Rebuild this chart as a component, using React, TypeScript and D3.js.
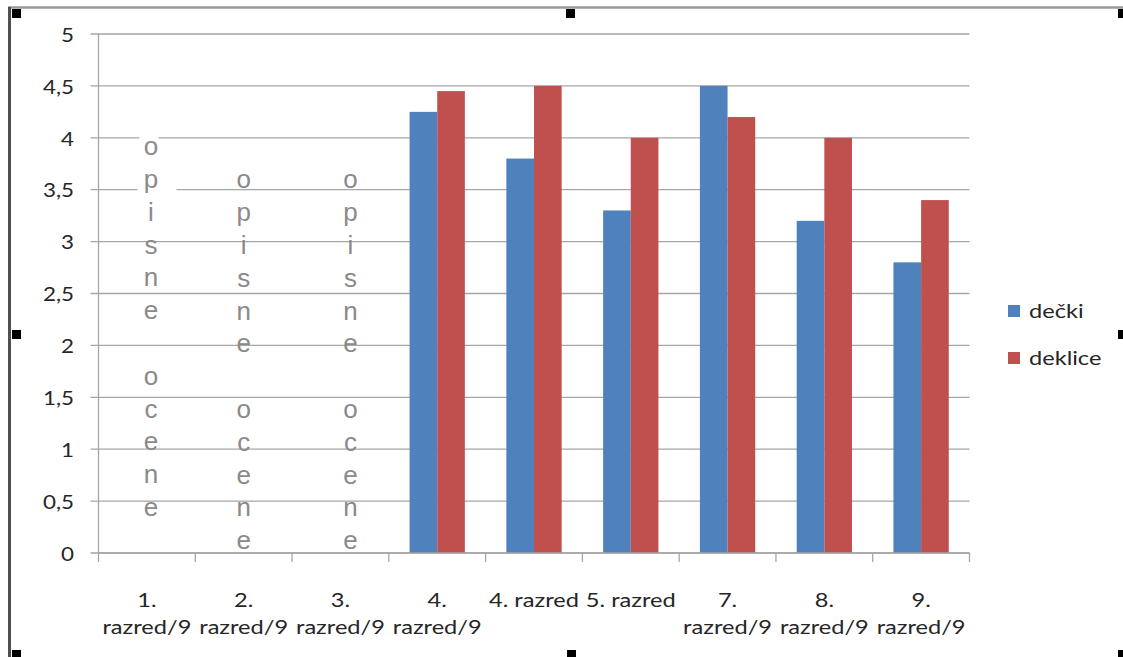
import React, { useMemo } from "react";
import * as d3 from "d3";

// ---- data ----
const categories = [
  "1. razred/9",
  "2. razred/9",
  "3. razred/9",
  "4. razred/9",
  "4. razred",
  "5. razred",
  "7. razred/9",
  "8. razred/9",
  "9. razred/9",
];
const decki: (number | null)[] = [null, null, null, 4.25, 3.8, 3.3, 4.5, 3.2, 2.8];
const deklice: (number | null)[] = [null, null, null, 4.45, 4.5, 4.0, 4.2, 4.0, 3.4];
const seriesNames = ["dečki", "deklice"];
const seriesColors = ["#4f81bd", "#c0504d"];
const yTicks = [0, 0.5, 1, 1.5, 2, 2.5, 3, 3.5, 4, 4.5, 5];
const annotationText = "opisne ocene";
const annotationCats = ["1. razred/9", "2. razred/9", "3. razred/9"];
const annotationTopValue = [3.92, 3.6, 3.6];
const annotationDx = [4, 0, 10];
// gridline gaps behind first annotation (value, x-from, x-to offsets from band start)
const gapValues = [4, 3.5];
const gapSpans = [
  [41, 60],
  [39, 78],
];

const W = 1123;
const H = 657;
const M = { left: 98.5, right: 969.5, top: 34, bottom: 553 };
const FONT = "Lato, 'Open Sans', sans-serif";
const SX = 1.18; // horizontal stretch of the reference text

const fmt = (d: number) => String(d).replace(".", ",");

function measure(text: string, font: string) {
  const c = document.createElement("canvas");
  const ctx = c.getContext("2d")!;
  ctx.font = font;
  return ctx.measureText(text).width;
}

export default function App() {
  const x = useMemo(
    () => d3.scaleBand<string>().domain(categories).range([M.left, M.right]).paddingInner(0).paddingOuter(0),
    []
  );
  const y = useMemo(() => d3.scaleLinear().domain([0, 5]).range([M.bottom, M.top]), []);
  const xs = useMemo(
    () => d3.scaleBand<string>().domain(seriesNames).range([0, x.bandwidth()]).paddingInner(0).paddingOuter(0.75),
    [x]
  );
  const series = [decki, deklice];
  const bw = x.bandwidth();
  const xFontSize = 20;
  const labelLines = categories.map((c) => {
    const w = measure(c, `${xFontSize}px Lato`) * SX;
    return w > bw + 2 ? c.split(" ") : [c];
  });
  const lineStep = 32.8;
  const boundaries = d3.range(categories.length + 1).map((i) => M.left + i * bw);

  return (
    <div style={{ position: "fixed", left: 0, top: 0 }}>
      <svg width={W} height={H} style={{ display: "block", background: "#fff" }}>
        {/* frame */}
        <line x1={8} x2={W} y1={7.5} y2={7.5} stroke="#9a9a9a" strokeWidth={2.5} />
        <line x1={9.5} x2={9.5} y1={7} y2={H} stroke="#505050" strokeWidth={3} />

        {/* gridlines */}
        {yTicks.map((t) => (
          <line key={t} x1={M.left - 8} x2={M.right} y1={y(t)} y2={y(t)} stroke="#a6a6a6" strokeWidth={1.3} />
        ))}
        {gapValues.map((v, i) => (
          <rect
            key={v}
            x={x(annotationCats[0])! + gapSpans[i][0]}
            y={y(v) - 2}
            width={gapSpans[i][1] - gapSpans[i][0]}
            height={4}
            fill="#fff"
          />
        ))}
        {/* y axis */}
        <line x1={M.left} x2={M.left} y1={M.top} y2={M.bottom} stroke="#a6a6a6" strokeWidth={1.3} />
        {yTicks.map((t) => (
          <text
            key={t}
            transform={`translate(${74},${y(t)}) scale(${SX},1)`}
            textAnchor="end"
            dominantBaseline="central"
            fontFamily={FONT}
            fontSize={19}
            fill="#262626"
          >
            {fmt(t)}
          </text>
        ))}
        {/* x tick marks */}
        {boundaries.map((b, i) => (
          <line key={i} x1={b} x2={b} y1={M.bottom} y2={M.bottom + 9} stroke="#a6a6a6" strokeWidth={1.3} />
        ))}

        {/* annotations */}
        {annotationCats.map((c, i) => {
          const cx = x(c)! + bw / 2 + annotationDx[i];
          const letters = annotationText.split("");
          return (
            <g key={c}>
              {letters.map((ch, j) => (
                <text
                  key={j}
                  x={cx}
                  y={y(annotationTopValue[i]) + j * lineStep}
                  textAnchor="middle"
                  dominantBaseline="central"
                  fontFamily="'Liberation Sans', Arial, sans-serif"
                  fontSize={26}
                  fill="#8a8a8a"
                >
                  {ch}
                </text>
              ))}
            </g>
          );
        })}

        {/* bars */}
        {series.map((s, si) =>
          s.map((v, ci) =>
            v == null ? null : (
              <rect
                key={`${si}-${ci}`}
                x={x(categories[ci])! + xs(seriesNames[si])!}
                y={y(v)}
                width={xs.bandwidth()}
                height={y(0) - y(v)}
                fill={seriesColors[si]}
              />
            )
          )
        )}
        {/* x axis line */}
        <line x1={M.left} x2={M.right} y1={M.bottom} y2={M.bottom} stroke="#a6a6a6" strokeWidth={1.3} />

        {/* x labels */}
        {categories.map((c, i) => (
          <g key={c + i}>
            {labelLines[i].map((ln, j) => (
              <text
                key={j}
                transform={`translate(${x(c)! + bw / 2},${607 + j * 26.5}) scale(${SX},1)`}
                textAnchor="middle"
                fontFamily={FONT}
                fontSize={xFontSize}
                fill="#262626"
              >
                {ln}
              </text>
            ))}
          </g>
        ))}

        {/* legend */}
        {seriesNames.map((n, i) => (
          <g key={n}>
            <rect x={1008} y={305 + i * 47} width={12} height={12} fill={seriesColors[i]} />
            <text
              transform={`translate(1029,${318 + i * 47}) scale(${SX},1)`}
              fontFamily={FONT}
              fontSize={20}
              fill="#262626"
            >
              {n}
            </text>
          </g>
        ))}

        {/* selection handles */}
        {[
          [12, 9],
          [566, 9],
          [1118, 9],
          [12, 330],
          [1118, 330],
          [12, 650],
          [567, 650],
          [1118, 650],
        ].map(([hx, hy], i) => (
          <rect key={i} x={hx} y={hy} width={9} height={9} fill="#000" />
        ))}
      </svg>
    </div>
  );
}
